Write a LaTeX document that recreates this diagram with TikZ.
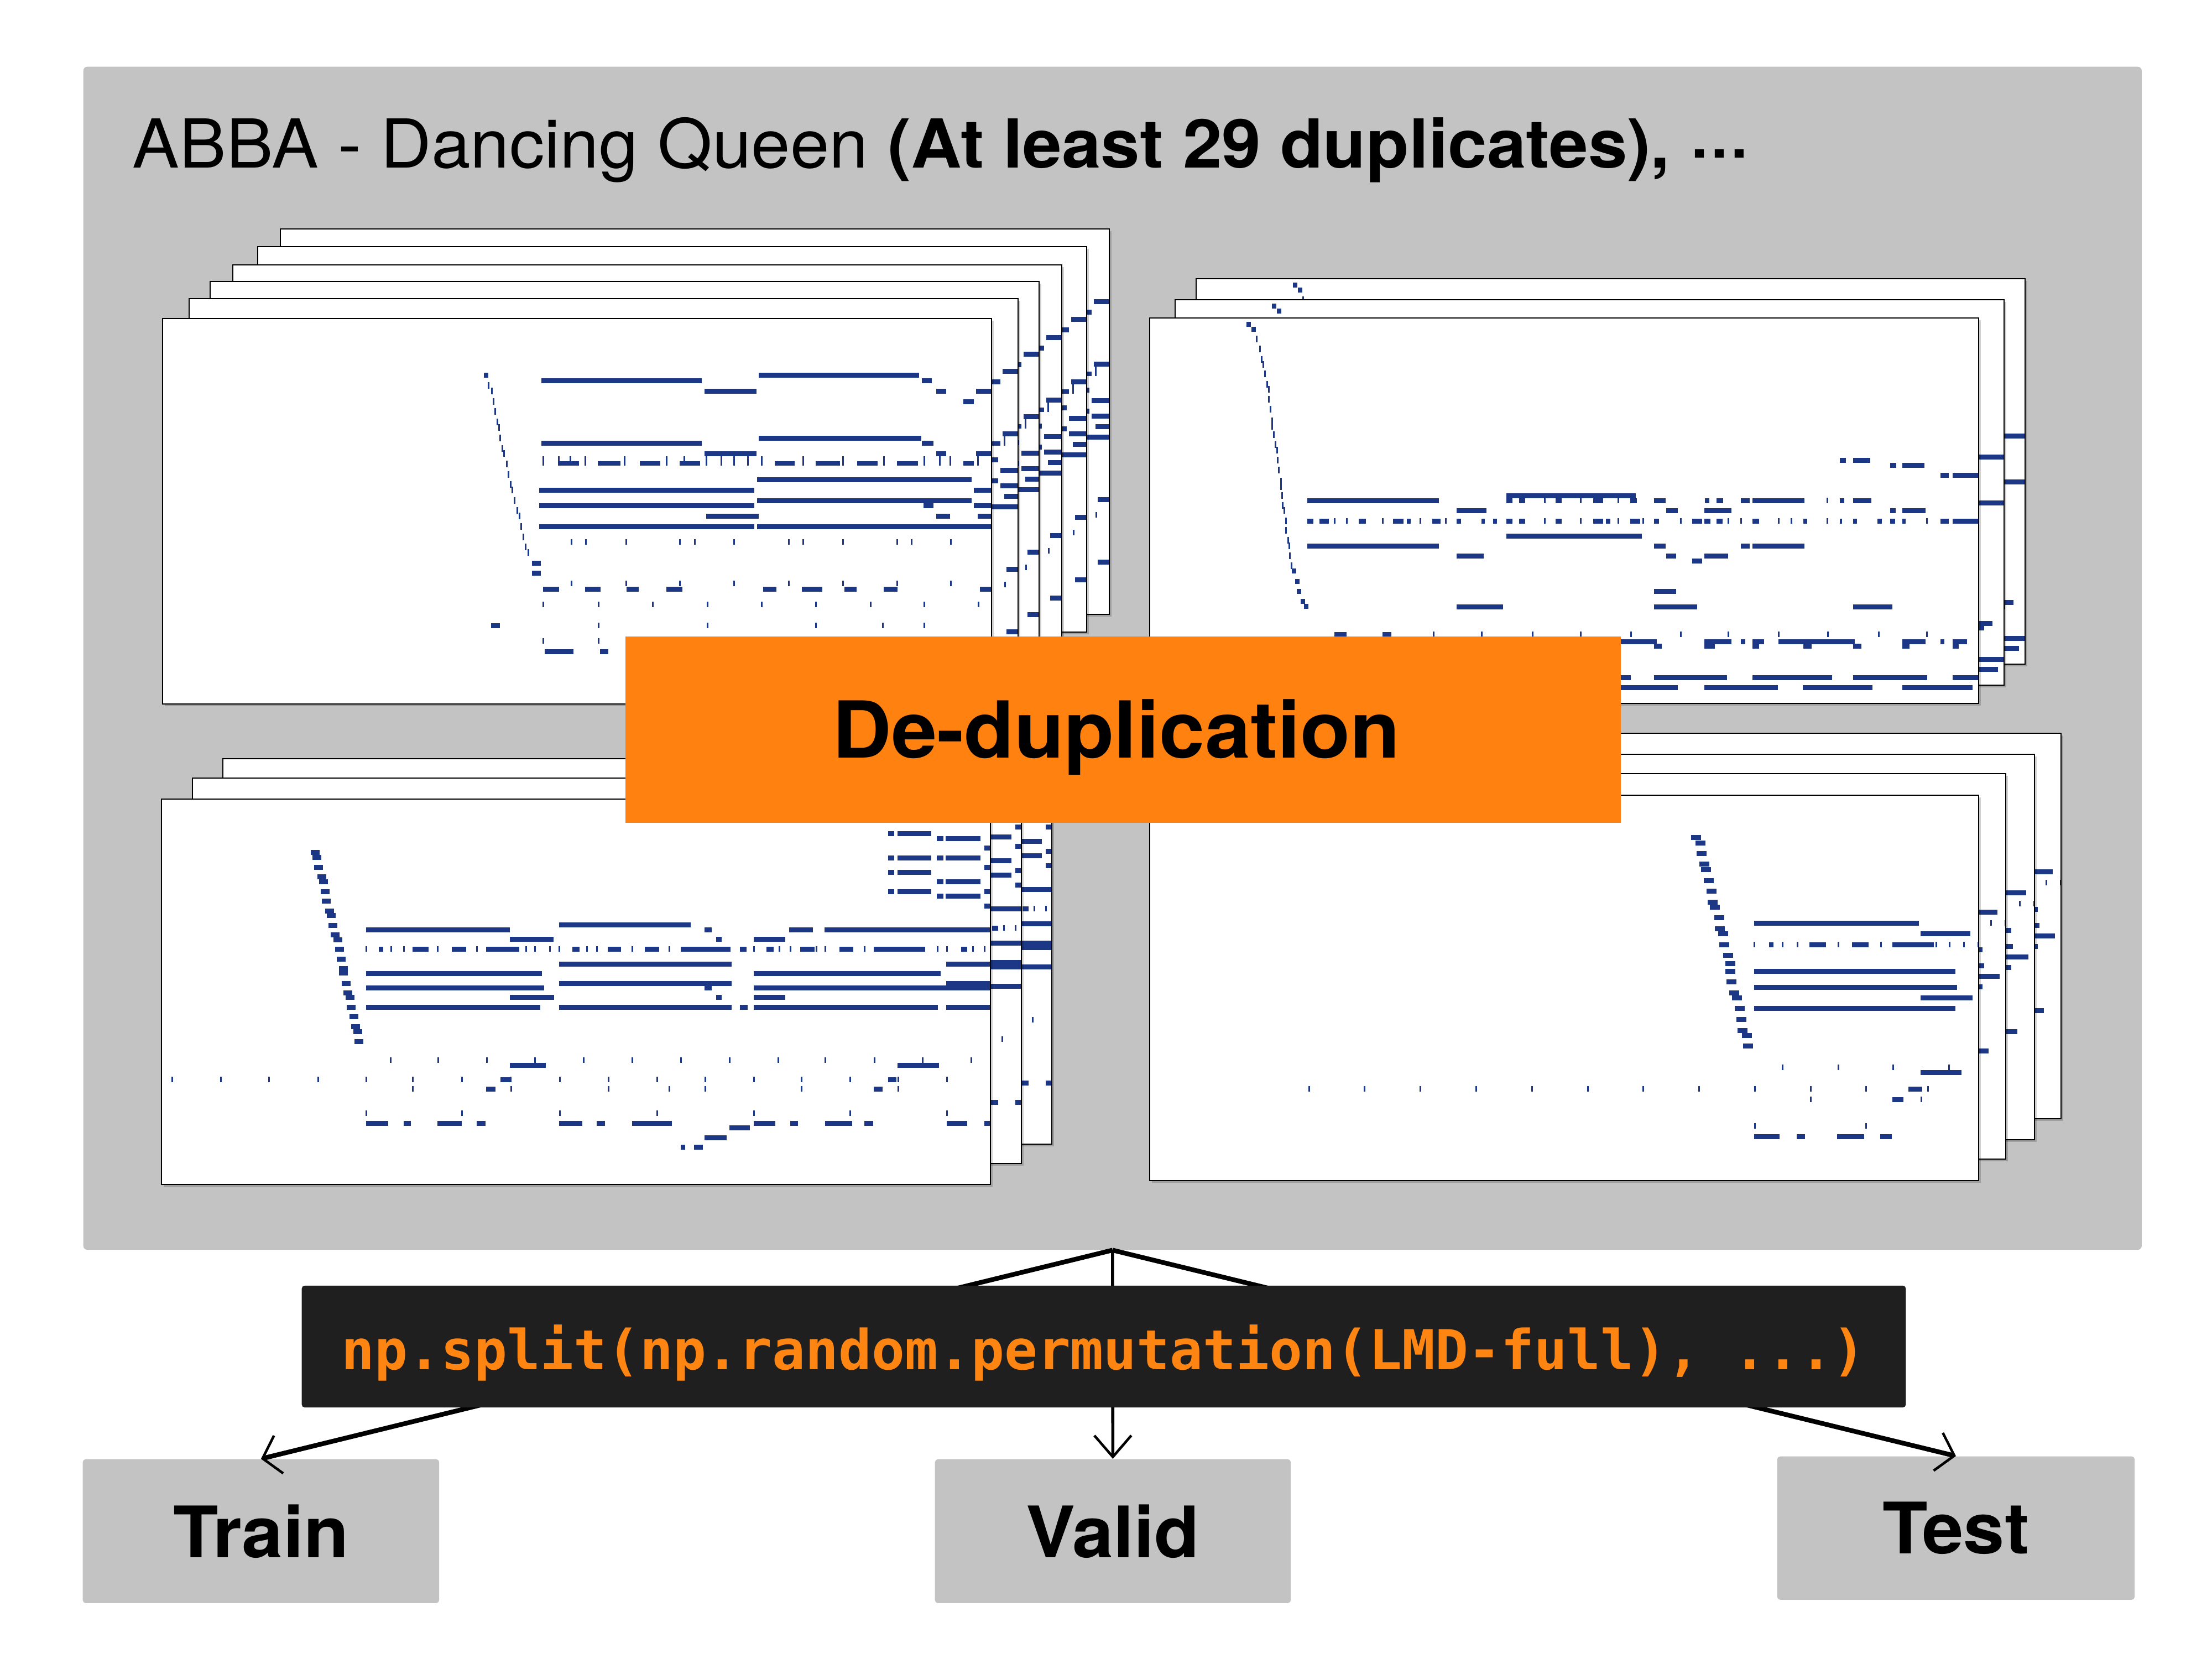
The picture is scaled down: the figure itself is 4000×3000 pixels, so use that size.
\documentclass[tikz,border=0pt]{standalone}
\usepackage{fontspec}
\setmainfont{TeX Gyre Heros}[FakeStretch=1.04]
\newfontfamily\codefont{DejaVu Sans Mono}
\usetikzlibrary{arrows.meta}
\definecolor{panelgray}{HTML}{C3C3C3}
\definecolor{dedupc}{HTML}{FF8210}
\definecolor{codebg}{HTML}{1F1F1F}
\definecolor{codefg}{HTML}{FF8512}
\definecolor{notec}{HTML}{1C3785}
\tikzset{
  panelbox/.style={fill=panelgray, rounded corners=2pt, inner sep=0pt, anchor=north west},
  graybox/.style={fill=panelgray, rounded corners=1.5pt, inner sep=0pt, anchor=north west,
    minimum width=6.44cm, minimum height=2.6cm, font=\fontsize{36.5pt}{40pt}\selectfont\bfseries},
  sheetline/.style={draw=black, line width=0.7pt},
  sideline/.style={line width=2.4pt, -{Straight Barb[length=8.5pt,width=20pt,line width=1.3pt]}},
  midline/.style={line width=1.6pt, -{Straight Barb[length=11pt,width=19pt,line width=1.3pt]}},
}
% note helpers (coordinates relative to a sheet)
\newcommand\nbrow[2]{\foreach \a/\b in {#2}{\fill[notec] (\a,#1-4.5) rectangle (\b,#1+4.5);}}
\newcommand\ntrow[2]{\foreach \x in {#2}{\fill[notec] (\x-1.5,#1-5) rectangle (\x+1.5,#1+5);}}
\newcommand\ntick[1]{\foreach \x/\y in {#1}{\fill[notec] (\x-1.5,\y-6) rectangle (\x+1.5,\y+6);}}
\newcommand\nblk[2]{\foreach \x/\y in {#2}{\fill[notec] (\x-#1,\y-4.5) rectangle (\x+#1,\y+4.5);}}
\newcommand\pianosheet[3]{%
  \begin{scope}[shift={(#1,#2)}]
    \fill[black,opacity=0.18] (4,4) rectangle (1503,701);
    \fill[white] (0,0) rectangle (1499,697);
    \begin{scope}
      \clip (0,0) rectangle (1499,697);
      #3
    \end{scope}
    \draw[sheetline] (0,0) rectangle (1499,697);
  \end{scope}}
\newcommand\notesTL{%
  \nbrow{102}{1078/1368}
  \nbrow{112}{685/975,1373/1391}
  \nbrow{131}{980/1074,1399/1417,1471/1499}
  \nbrow{150}{1448/1467}
  \nbrow{216}{1078/1372}
  \nbrow{225}{685/975,1373/1394}
  \nbrow{244}{980/1074,1399/1417,1471/1499}
  \foreach \x in {688,716,737,764,835,911,943,983,1010,1033,1058,1083,1158,1230,1304,1377,1405,1424,1474}
    {\fill[notec] (\x-1.5,249) rectangle (\x+1.5,266);}
  \foreach \a/\b in {716/753,787/828,863/900,935/972,1107/1143,1181/1225,1256/1293,1328/1366,1448/1467}
    {\fill[notec] (\a,258) rectangle (\b,266);}
  \nbrow{291}{1075/1463}
  \nbrow{310}{681/1070,1467/1499}
  \nbrow{329}{1075/1463}
  \nbrow{338}{681/1070,1376/1394,1467/1499}
  \nbrow{357}{983/1078,1399/1424,1474/1499}
  \nbrow{376}{681/1070,1075/1499}
  \ntrow{404}{739,765,838,935,962,1033,1132,1158,1230,1328,1354,1425}
  \ntick{589/121,595/131,598/150,601/168,605/187,608/197,610/216,614/235,617/244,622/263,625/282,629/300,632/310,636/329,641/347,645/357,648/376,652/395,656/413,661/423}
  \nblk{4}{585/102}
  \nblk{8}{676/442,676/460}
  \ntrow{479}{739,838,935,1033,1132,1230,1328,1425}
  \nbrow{489}{688/717,764/792,839/861,911/940,1086/1110,1156/1193,1233/1255,1304/1329,1478/1499}
  \ntrow{517}{688,788,886,985,1083,1181,1280,1377,1475}
  \nbrow{555}{594/610}
  \ntrow{555}{788,985,1181,1302,1377}
  \ntrow{583}{688,788}
  \nbrow{602}{691/743,791/806,1478/1499}
}
\newcommand\notesTR{%
  \ntick{193/38,199/56,202/75,205/84,208/101,212/120,215/129,215/147,218/165,221/186,221/196,224/211,227/229,230/239,231/257,233/275,237/295,237/305,239/321,240/339,243/348,246/367,246/384,250/402,252/412,253/430,256/448}
  \nblk{4}{179/11,188/20,261/457,267/476,270/494,277/512,283/521}
  \nbrow{257}{1248/1259,1272/1303}
  \nbrow{266}{1339/1350,1361/1401}
  \nbrow{284}{1430/1445,1452/1499}
  \nbrow{321}{645/879}
  \nbrow{330}{285/523,645/656,668/679,734/745,802/820,869/881,912/933,1004/1012,1025/1037,1069/1085,1090/1184,1248/1256,1272/1305}
  \ntrow{330}{714,779,847,1225}
  \nbrow{348}{555/609,934/955,1003/1052,1339/1349,1361/1403}
  \nbrow{367}{285/296,307/324,378/391,440/459,465/472,511/526,555/563,600/606,621/628,645/656,668/679,734/745,802/820,825/833,869/887,912/921,981/999,1003/1014,1025/1036,1090/1102,1182/1189,1248/1252,1272/1279,1316/1324,1339/1348,1361/1367,1430/1445,1452/1499}
  \ntrow{367}{334,356,421,489,535,714,779,847,892,960,1046,1069,1137,1160,1225,1405}
  \nbrow{394}{645/890}
  \nbrow{412}{285/523,912/933,1069/1085,1090/1184}
  \nbrow{430}{555/604,934/952,1003/1046}
  \nbrow{439}{981/999}
  \nbrow{494}{912/952}
  \nbrow{522}{555/639,912/990,1272/1343}
  \nbrow{572}{334/356,421/437}
  \ntrow{572}{513,600,692,779,870,960,1046,1137,1226,1318,1405}
  \nbrow{585}{849/917,1003/1052,1069/1077,1090/1111,1137/1275,1361/1403,1430/1437,1452/1478}
  \nbrow{593}{912/926,1003/1022,1090/1102,1182/1197,1272/1287,1361/1374,1452/1463}
  \nbrow{650}{580/702,745/870,912/1044,1090/1234,1272/1406,1452/1499}
  \nbrow{668}{500/620,680/800,849/955,1003/1136,1181/1307,1361/1488}
}
\newcommand\notesBL{%
  \nblk{8}{278/96,281/105,284/123,290/140,293/149,296/167,298/184,304/202,307/210,310/228,314/245,319/254,322/271,325/289,329/306,329/314,334/333,337/350,341/358,343/376,348/393,351/411,355/420,357/438}
  \nbrow{62}{1314/1325,1331/1392}
  \nbrow{71}{1402/1414,1418/1481}
  \nbrow{106}{1314/1325,1331/1392,1402/1414,1418/1481}
  \nbrow{132}{1314/1325,1331/1392}
  \nbrow{149}{1402/1414,1418/1481}
  \nbrow{167}{1314/1325,1331/1392}
  \nbrow{175}{1402/1414,1418/1481}
  \nbrow{88}{1488/1499}
  \nbrow{123}{1488/1499}
  \nbrow{167}{1488/1499}
  \nbrow{193}{1488/1499}
  \nbrow{227}{719/957}
  \nbrow{236}{370/630,982/995,1135/1178,1199/1499}
  \nbrow{253}{630/709,1003/1013,1071/1128}
  \nbrow{271}{393/401,454/483,525/551,587/647,743/756,807/831,874/900,939/1029,1046/1058,1094/1107,1155/1181,1226/1251,1288/1381,1446/1457}
  \ntrow{271}{370,415,438,499,570,659,675,702,719,769,787,851,918,1071,1117,1137,1184,1200,1271,1403,1420,1467,1488}
  \nbrow{298}{719/1031,1419/1499}
  \nbrow{315}{370/688,1071/1409}
  \nbrow{333}{719/1031,1419/1499}
  \nbrow{341}{370/692,982/995,1071/1499}
  \nbrow{358}{630/710,1003/1013,1071/1128}
  \nbrow{376}{370/685,719/1031,1046/1060,1071/1404,1419/1499}
  \ntrow{472}{414,500,588,675,763,851,939,1027,1115,1200,1289,1376,1464}
  \nbrow{481}{630/695,1331/1406}
  \ntrow{507}{19,107,194,283,370,454,543,631,720,808,896,983,1071,1157,1245,1332,1420}
  \nbrow{507}{613/633,1314/1329}
  \ntrow{524}{454,632,808,918,983,1157,1332}
  \nbrow{524}{587/604,1288/1304}
  \ntrow{568}{370,543,720,896,1071,1245,1420}
  \nbrow{586}{370/410,438/451,499/543,570/586,719/761,787/802,851/923,1071/1110,1137/1151,1200/1249,1271/1287,1420/1457,1488/1499}
  \nbrow{594}{1027/1064}
  \nbrow{612}{982/1022}
  \nbrow{629}{939/947,963/979}
}
\newcommand\notesBR{%
  \nblk{9}{988/76,996/86,998/105,1003/124,1006/134,1011/154,1016/173,1018/193,1022/202,1030/221,1031/241,1037/250,1039/270,1046/289,1050/304,1050/318,1052/337,1057/357,1062/366,1067/385,1070/405,1072/425,1080/434,1082/453}
  \nbrow{231}{1093/1391}
  \nbrow{250}{1394/1484}
  \ntrow{270}{1093,1144,1171,1245,1322,1422,1446,1472,1498}
  \nbrow{270}{1120/1128,1193/1223,1270/1300,1343/1418}
  \nbrow{318}{1093/1457}
  \nbrow{347}{1093/1460}
  \nbrow{366}{1394/1488}
  \nbrow{385}{1093/1457}
  \ntrow{492}{1144,1245,1344,1445}
  \nbrow{501}{1394/1468}
  \ntrow{531}{288,388,489,590,691,792,892,993,1094,1195,1295,1407}
  \nbrow{531}{1372/1397}
  \ntrow{550}{1195,1395}
  \nbrow{550}{1343/1363}
  \ntrow{598}{1094,1295}
  \nbrow{617}{1093/1139,1170/1185,1243/1292,1321/1342}
}
\begin{document}
\begin{tikzpicture}[x={(0.01cm,0)}, y={(0,-0.01cm)}]
  \useasboundingbox[fill=white] (0,0) rectangle (4000,3000);
  % main panel
  \node (panel) [panelbox, minimum width=37.2cm, minimum height=21.38cm] at (150,120) {};
  \node (title) [anchor=base west, inner sep=0pt, font=\fontsize{34.7pt}{40pt}\selectfont]
    at (239,303) {ABBA - Dancing Queen \textbf{(At least 29 duplicates),} \raisebox{5pt}{\scalebox{0.85}{\textbf{…}}}};
  % top-left stack
  \foreach \px/\py in {507/414,466/446,421/479,380/509,342/540,294/576}
    {\pianosheet{\px}{\py}{\notesTL}}
  % top-right stack
  \foreach \px/\py in {2163/504,2125/542,2079/575}
    {\pianosheet{\px}{\py}{\notesTR}}
  % bottom-left stack
  \foreach \px/\py in {403/1372,348/1407,292/1445}
    {\pianosheet{\px}{\py}{\notesBL}}
  % bottom-right stack
  \foreach \px/\py in {2228/1326,2180/1364,2128/1399,2079/1438}
    {\pianosheet{\px}{\py}{\notesBR}}
  % de-duplication box
  \node (dedup) [fill=dedupc, inner sep=0pt, anchor=north west, minimum width=17.99cm, minimum height=3.37cm] at (1130,1150) {};
  \node (dedupText) [anchor=base, inner sep=0pt, font=\fontsize{40.4pt}{44pt}\selectfont\bfseries] at (2019,1370) {De-duplication};
  % result boxes
  \node (train) [graybox] at (149,2638) {Train};
  \node (valid) [graybox, minimum width=6.43cm] at (1690,2638) {Valid};
  \node (test) [graybox, minimum width=6.46cm, minimum height=2.59cm] at (3213,2633) {Test};
  % connectors
  \draw[sideline] (panel.south) -- (train.north);
  \draw[midline] (panel.south) -- (valid.north);
  \draw[sideline] (panel.south) -- (test.north);
  % code box
  \node (code) [fill=codebg, rounded corners=1.5pt, inner sep=0pt, minimum width=28.99cm, minimum height=2.2cm] at (1996,2435) {};
  \node (codeText) [anchor=base, inner sep=0pt, text=codefg, font=\codefont\bfseries\fontsize{28.3pt}{32pt}\selectfont] at (1996,2476) {np.split(np.random.permutation(LMD-full), ...)};
\end{tikzpicture}
\end{document}
